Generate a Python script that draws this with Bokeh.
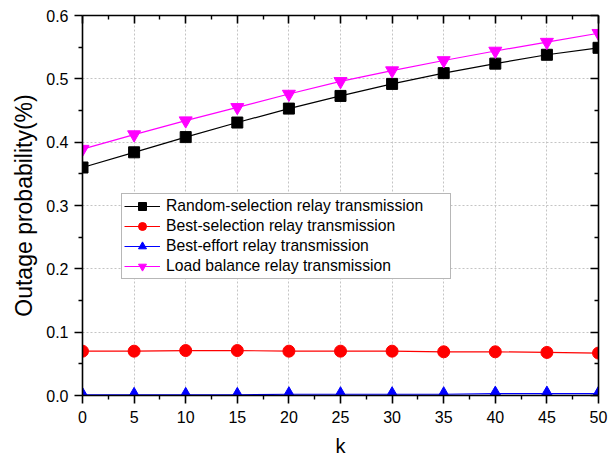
from bokeh.plotting import figure
from bokeh.models import (Range1d, LinearAxis, FixedTicker, Legend,
                          LegendItem, NumeralTickFormatter, CustomJSTickFormatter)
from bokeh.embed import file_html
from bokeh.resources import INLINE

k = [0, 5, 10, 15, 20, 25, 30, 35, 40, 45, 50]
random_sel = [0.360, 0.384, 0.408, 0.431, 0.453, 0.473, 0.492, 0.509, 0.524, 0.538, 0.549]
best_sel = [0.070, 0.070, 0.071, 0.071, 0.070, 0.070, 0.070, 0.069, 0.069, 0.068, 0.067]
best_effort = [0.001, 0.001, 0.001, 0.001, 0.002, 0.002, 0.002, 0.002, 0.003, 0.003, 0.003]
load_bal = [0.389, 0.412, 0.434, 0.455, 0.476, 0.496, 0.513, 0.529, 0.544, 0.558, 0.572]

labels = ["Random-selection relay transmission", "Best-selection relay transmission",
          "Best-effort relay transmission", "Load balance relay transmission"]
x_major = [0, 5, 10, 15, 20, 25, 30, 35, 40, 45, 50]
x_minor = [2.5, 7.5, 12.5, 17.5, 22.5, 27.5, 32.5, 37.5, 42.5, 47.5]
y_major = [0.0, 0.1, 0.2, 0.3, 0.4, 0.5, 0.6]
y_minor = [0.05, 0.15, 0.25, 0.35, 0.45, 0.55]

FONT = "Liberation Sans"

p = figure(width=616, height=459, output_backend="svg", toolbar_location=None,
           x_range=Range1d(0, 50), y_range=Range1d(0, 0.6),
           x_axis_location=None, y_axis_location=None,
           min_border_left=82, min_border_right=18, min_border_top=15,
           min_border_bottom=63)
p.background_fill_color = "white"
p.border_fill_color = "white"
p.outline_line_color = None

xt = FixedTicker(ticks=x_major, minor_ticks=x_minor)
yt = FixedTicker(ticks=y_major, minor_ticks=y_minor)
blank = CustomJSTickFormatter(code="return '';")


def style_axis(ax, tin, tout, labels_on):
    ax.axis_line_color = "black"
    ax.axis_line_width = 1.6
    ax.major_tick_line_color = "black"
    ax.major_tick_line_width = 1.6
    ax.minor_tick_line_color = "black"
    ax.minor_tick_line_width = 1.4
    ax.major_tick_in = tin
    ax.major_tick_out = tout
    ax.minor_tick_in = tin // 2
    ax.minor_tick_out = tout // 2
    ax.major_label_text_font = FONT
    ax.major_label_text_color = "black"
    ax.major_label_text_font_size = "16px"
    ax.axis_label_text_font = FONT
    ax.axis_label_text_font_style = "normal"
    ax.axis_label_text_color = "black"
    if not labels_on:
        ax.formatter = blank
        ax.major_label_standoff = 0


bottom = LinearAxis(ticker=xt, axis_label="k")
style_axis(bottom, 0, 8, True)
bottom.major_label_standoff = 7
bottom.axis_label_text_font_size = "20px"
bottom.axis_label_standoff = 9
p.add_layout(bottom, "below")

left = LinearAxis(ticker=yt, axis_label="Outage probability(%)",
                  formatter=NumeralTickFormatter(format="0.0"))
style_axis(left, 0, 8, True)
left.major_label_standoff = 6
left.axis_label_text_font_size = "23px"
left.axis_label_standoff = 6
p.add_layout(left, "left")

top = LinearAxis(ticker=xt)
style_axis(top, 8, 0, False)
p.add_layout(top, "above")

right = LinearAxis(ticker=yt)
style_axis(right, 8, 0, False)
p.add_layout(right, "right")

p.xgrid.ticker = xt
p.ygrid.ticker = yt
for g in (p.xgrid, p.ygrid):
    g.grid_line_color = "#c4c4c4"
    g.grid_line_dash = "2 2"
    g.grid_line_width = 1

series = [
    (random_sel, "black", "square", 11),
    (best_sel, "red", "circle", 12),
    (best_effort, "blue", "triangle", 13),
    (load_bal, "#ff00ff", "inverted_triangle", 13),
]
items = []
for (ys, col, mk, sz), lab in zip(series, labels):
    ln = p.line(k, ys, line_color=col, line_width=1.2)
    sc = p.scatter(k, ys, marker=mk, size=sz, fill_color=col, line_color=col)
    items.append(LegendItem(label=lab, renderers=[ln, sc]))

legend = Legend(items=items, location=(39, 116))
legend.label_text_font = FONT
legend.label_text_font_size = "15.7px"
legend.label_text_color = "black"
legend.glyph_width = 36
legend.glyph_height = 20
legend.label_height = 20
legend.label_width = 282
legend.label_standoff = 6
legend.spacing = 0
legend.padding = 2
legend.margin = 0
legend.border_line_color = "#707070"
legend.border_line_width = 1.2
legend.background_fill_color = "white"
legend.background_fill_alpha = 1
p.add_layout(legend, "center")

open("out.html", "w").write(file_html(p, INLINE))
